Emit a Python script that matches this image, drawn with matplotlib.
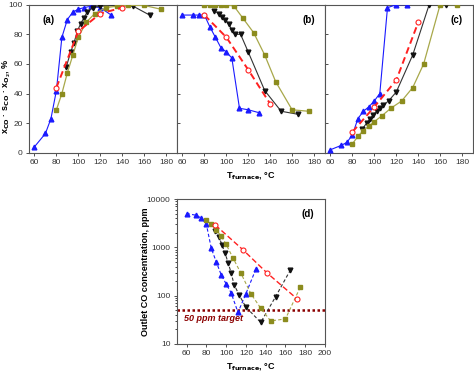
import matplotlib
matplotlib.use('Agg')
import matplotlib.pyplot as plt
from matplotlib.ticker import NullFormatter, FuncFormatter

plt.rcParams['font.family'] = ['Liberation Sans', 'DejaVu Sans']

# --- data ---
blue_x = [60, 70, 75, 80, 85, 90, 95, 100, 105, 112, 120, 130]
blue_a = [4, 13, 23, 42, 78, 90, 95, 97, 98, 99, 98, 93]
blue_b = [93, 93, 93, 93, 85, 78, 71, 68, 64, 30, 29, 27]
blue_c = [2, 5, 7, 12, 23, 28, 31, 35, 40, 98, 100, 100]
blue_d = [5000, 4600, 4000, 3000, 950, 500, 270, 175, 115, 45, 110, 350]

black_x = [89, 93, 96, 99, 102, 105, 108, 113, 120, 135, 150, 165]
black_a = [58, 68, 74, 82, 87, 91, 95, 98, 99, 99.5, 99, 93]
black_b = [96, 94, 92, 90, 87, 83, 80, 80, 68, 42, 28, 26]
black_c = [16, 20, 23, 25.5, 28, 30, 32, 35, 41, 66, 100, 100]
black_d = [2200, 1600, 1100, 750, 480, 300, 170, 105, 58, 28, 95, 340]

olive_x = [80, 85, 90, 95, 100, 107, 115, 125, 135, 145, 160, 175]
olive_a = [29, 40, 54, 66, 78, 88, 94, 98, 99, 99.5, 99.5, 97]
olive_b = [100, 100, 100, 100, 100, 99, 91, 81, 66, 48, 29, 28]
olive_c = [6, 11, 15, 18, 21, 25, 30, 35, 44, 60, 100, 100]
olive_d = [3600, 3000, 2300, 1700, 1150, 600, 290, 110, 55, 30, 33, 150]

red_x = [80, 100, 120, 140]
red_a = [44, 82, 94, 98]
red_b = [93, 78, 56, 33]
red_c = [14, 31, 49, 88]
red_dx = [89, 117, 141, 172]
red_d = [2900, 890, 300, 85]

target_ppm = 50

BLUE = '#1a1aff'
BLACK = '#111111'
OLIVE = '#8c8c1e'
OLIVE_LINE = '#a8a84a'
RED = '#ff2020'
DARKRED = '#8b0000'
SPINE = '#555555'


def style_axes(ax):
    for s in ax.spines.values():
        s.set_color(SPINE)
        s.set_linewidth(0.8)
    ax.tick_params(labelsize=6, length=2.5, width=0.6, colors='#333333', pad=2)


fig = plt.figure(figsize=(4.74, 3.76), dpi=100)
W, H = 474.0, 376.0

panels = []
for left in [29, 177, 325]:
    panels.append(fig.add_axes([left / W, (H - 152.7) / H, 148 / W, 148 / H]))

series = [
    (blue_a, blue_b, blue_c),
    (black_a, black_b, black_c),
    (olive_a, olive_b, olive_c),
    (red_a, red_b, red_c),
]

for k, ax in enumerate(panels):
    ax.plot(blue_x, series[0][k], '-', color=BLUE, lw=0.8, marker='^', ms=3.4,
            mfc=BLUE, mec=BLUE, zorder=3)
    ax.plot(black_x, series[1][k], '-', color='#333333', lw=0.8, marker='v', ms=3.4,
            mfc=BLACK, mec=BLACK, zorder=3)
    ax.plot(olive_x, series[2][k], '-', color=OLIVE_LINE, lw=0.9, marker='s', ms=2.9,
            mfc=OLIVE, mec=OLIVE, zorder=3)
    ax.plot(red_x, series[3][k], '--', color=RED, lw=1.4, marker='o', ms=3.6,
            mfc='white', mec=RED, mew=0.8, dashes=(3.5, 2), zorder=4)
    ax.set_xlim(55, 190)
    ax.set_ylim(0, 100)
    ax.set_xticks([60, 80, 100, 120, 140, 160, 180])
    ax.set_yticks([0, 20, 40, 60, 80, 100])
    style_axes(ax)
    if k > 0:
        ax.tick_params(axis='y', direction='in', labelleft=False)

panels[0].set_ylabel('x$_{\\mathbf{CO}}$ · s$_{\\mathbf{CO}}$ · x$_{\\mathbf{O_2}}$, %',
                     fontsize=6.5, fontweight='bold')
panels[0].yaxis.set_label_coords(-0.105, 0.38)
panels[1].set_xlabel('T$_{\\mathbf{furnace}}$, °C', fontsize=6.5, fontweight='bold', labelpad=3)
for ax, lab, xy, ha in zip(panels, ['(a)', '(b)', '(c)'],
                          [(0.09, 0.93), (0.93, 0.93), (0.93, 0.93)],
                          ['left', 'right', 'right']):
    ax.text(xy[0], xy[1], lab, transform=ax.transAxes, fontsize=7, fontweight='bold',
            ha=ha, va='top')

# --- panel (d) ---
axd = fig.add_axes([176.7 / W, (H - 344) / H, 148.3 / W, 145 / H])
dl = dict(lw=0.8, dashes=(3, 2), zorder=3)
axd.plot(blue_x, blue_d, color=BLUE, marker='^', ms=3.4, mfc=BLUE, mec=BLUE, **dl)
axd.plot(black_x, black_d, color='#333333', marker='v', ms=3.4, mfc=BLACK, mec=BLACK, **dl)
axd.plot(olive_x, olive_d, color=OLIVE_LINE, marker='s', ms=2.9, mfc=OLIVE, mec=OLIVE, **dl)
axd.plot(red_dx, red_d, color=RED, marker='o', ms=3.6, mfc='white', mec=RED, mew=0.8,
         lw=1.0, dashes=(4, 2), zorder=4)
axd.axhline(target_ppm, color=DARKRED, lw=1.8, ls=(0, (1, 1)), zorder=2)
axd.text(57, 33, '50 ppm target', color=DARKRED, fontsize=6.5, fontweight='bold',
         fontstyle='italic', ha='left', va='center')
axd.set_yscale('log')
axd.set_xlim(50, 200)
axd.set_ylim(10, 10000)
axd.set_xticks([60, 80, 100, 120, 140, 160, 180, 200])
axd.yaxis.set_major_formatter(FuncFormatter(lambda v, p: '%d' % v))
axd.yaxis.set_minor_formatter(NullFormatter())
style_axes(axd)
axd.tick_params(which='minor', length=1.5, width=0.5)
axd.set_ylabel('Outlet CO concentration, ppm', fontsize=6.5, fontweight='bold')
axd.yaxis.set_label_coords(-0.18, 0.5)
axd.set_xlabel('T$_{\\mathbf{furnace}}$, °C', fontsize=6.5, fontweight='bold', labelpad=3)
axd.text(0.93, 0.93, '(d)', transform=axd.transAxes, fontsize=7, fontweight='bold',
         ha='right', va='top')

fig.savefig('out.png', dpi=100)
